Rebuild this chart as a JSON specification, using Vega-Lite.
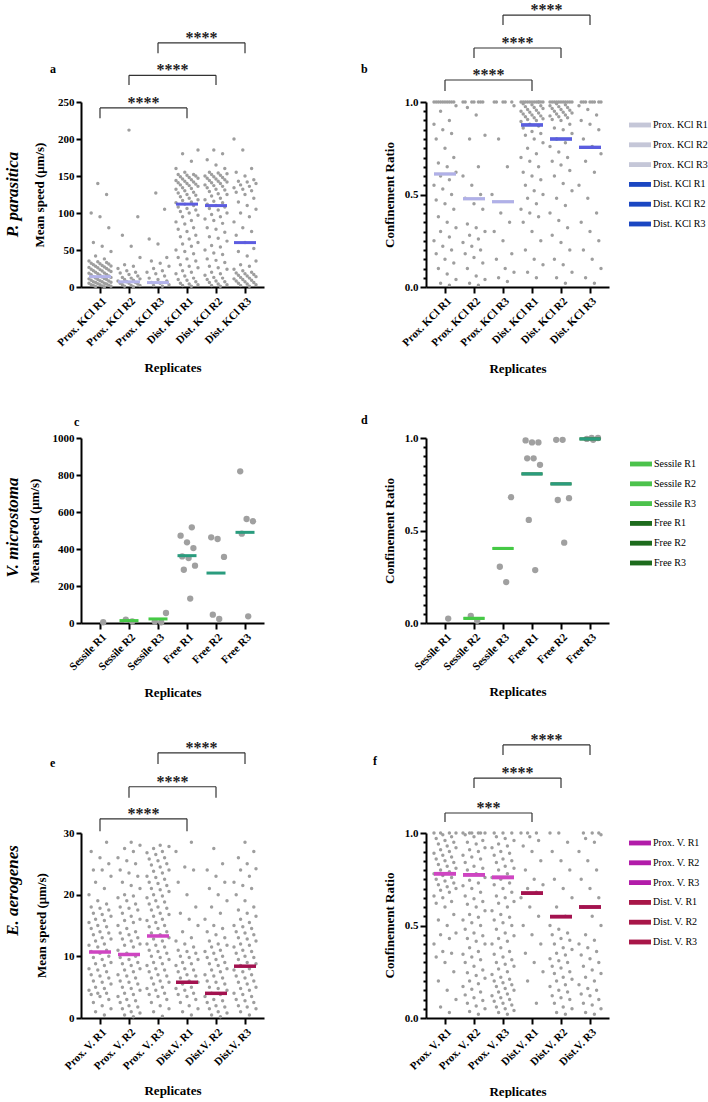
{
"$schema":"https://vega.github.io/schema/vega-lite/v6.json",
"background":"white",
"padding":{"left":2,"top":2,"right":0,"bottom":0},
"config":{"view":{"stroke":null},"font":"Liberation Serif",
"axis":{"grid":false,"domainColor":"#000","domainWidth":2,"tickColor":"#000","tickWidth":2,"tickSize":5,"labelFont":"Liberation Serif","labelFontSize":11,"labelFontWeight":"bold","labelColor":"#000","titleFont":"Liberation Serif","titleFontSize":13,"titleFontWeight":"bold","titleColor":"#000","titleBaseline":"middle"},
"axisX":{"labelAngle":-45,"tickSize":6,"labelPadding":2},
"title":{"font":"Liberation Serif","fontSize":12,"fontWeight":"bold","color":"#000","anchor":"start","frame":"group","baseline":"alphabetic","offset":0},
"legend":{"title":null,"symbolType":"M-1,-0.22H1V0.22H-1Z","symbolSize":484,"symbolStrokeWidth":0,"symbolOpacity":1,"labelFont":"Liberation Serif","labelFontSize":10,"labelFontWeight":"normal","labelColor":"#000","labelOffset":2,"rowPadding":3.8,"padding":0}
},
"datasets":{
"a":[{"g":"P1","v":0.5},{"g":"P1","v":1},{"g":"P1","v":1.5},{"g":"P1","v":2},{"g":"P1","v":3},{"g":"P1","v":3},{"g":"P1","v":4},{"g":"P1","v":5},{"g":"P1","v":5},{"g":"P1","v":6},{"g":"P1","v":7},{"g":"P1","v":7},{"g":"P1","v":8},{"g":"P1","v":9},{"g":"P1","v":10},{"g":"P1","v":10},{"g":"P1","v":11},{"g":"P1","v":12},{"g":"P1","v":13},{"g":"P1","v":14},{"g":"P1","v":15},{"g":"P1","v":16},{"g":"P1","v":17},{"g":"P1","v":18},{"g":"P1","v":19},{"g":"P1","v":20},{"g":"P1","v":21},{"g":"P1","v":22},{"g":"P1","v":23},{"g":"P1","v":24},{"g":"P1","v":25},{"g":"P1","v":26},{"g":"P1","v":27},{"g":"P1","v":28},{"g":"P1","v":29},{"g":"P1","v":30},{"g":"P1","v":31},{"g":"P1","v":32},{"g":"P1","v":33},{"g":"P1","v":35},{"g":"P1","v":38},{"g":"P1","v":42},{"g":"P1","v":48},{"g":"P1","v":55},{"g":"P1","v":60},{"g":"P1","v":80},{"g":"P1","v":95},{"g":"P1","v":100},{"g":"P1","v":125},{"g":"P1","v":140},{"g":"P1","v":0.8},{"g":"P1","v":2.5},{"g":"P1","v":4.5},{"g":"P1","v":6.5},{"g":"P1","v":8.5},{"g":"P1","v":11.5},{"g":"P1","v":13.5},{"g":"P1","v":16.5},{"g":"P1","v":18.5},{"g":"P1","v":21.5},{"g":"P1","v":23.5},{"g":"P1","v":26.5},{"g":"P1","v":28.5},{"g":"P1","v":31.5},{"g":"P1","v":34},
{"g":"P2","v":0.5},{"g":"P2","v":1},{"g":"P2","v":2},{"g":"P2","v":2},{"g":"P2","v":3},{"g":"P2","v":4},{"g":"P2","v":5},{"g":"P2","v":5},{"g":"P2","v":6},{"g":"P2","v":7},{"g":"P2","v":8},{"g":"P2","v":9},{"g":"P2","v":10},{"g":"P2","v":11},{"g":"P2","v":12},{"g":"P2","v":13},{"g":"P2","v":15},{"g":"P2","v":17},{"g":"P2","v":19},{"g":"P2","v":20},{"g":"P2","v":22},{"g":"P2","v":25},{"g":"P2","v":28},{"g":"P2","v":30},{"g":"P2","v":40},{"g":"P2","v":55},{"g":"P2","v":70},{"g":"P2","v":95},{"g":"P2","v":212},
{"g":"P3","v":1},{"g":"P3","v":2},{"g":"P3","v":3},{"g":"P3","v":5},{"g":"P3","v":6},{"g":"P3","v":8},{"g":"P3","v":10},{"g":"P3","v":12},{"g":"P3","v":15},{"g":"P3","v":18},{"g":"P3","v":20},{"g":"P3","v":22},{"g":"P3","v":25},{"g":"P3","v":28},{"g":"P3","v":32},{"g":"P3","v":35},{"g":"P3","v":40},{"g":"P3","v":58},{"g":"P3","v":65},{"g":"P3","v":105},{"g":"P3","v":127},
{"g":"D1","v":1},{"g":"D1","v":2},{"g":"D1","v":3},{"g":"D1","v":5},{"g":"D1","v":7},{"g":"D1","v":9},{"g":"D1","v":12},{"g":"D1","v":15},{"g":"D1","v":18},{"g":"D1","v":22},{"g":"D1","v":26},{"g":"D1","v":30},{"g":"D1","v":35},{"g":"D1","v":40},{"g":"D1","v":45},{"g":"D1","v":50},{"g":"D1","v":55},{"g":"D1","v":60},{"g":"D1","v":65},{"g":"D1","v":70},{"g":"D1","v":75},{"g":"D1","v":80},{"g":"D1","v":85},{"g":"D1","v":90},{"g":"D1","v":95},{"g":"D1","v":100},{"g":"D1","v":104},{"g":"D1","v":108},{"g":"D1","v":110},{"g":"D1","v":112},{"g":"D1","v":115},{"g":"D1","v":118},{"g":"D1","v":120},{"g":"D1","v":122},{"g":"D1","v":125},{"g":"D1","v":127},{"g":"D1","v":130},{"g":"D1","v":132},{"g":"D1","v":134},{"g":"D1","v":136},{"g":"D1","v":138},{"g":"D1","v":140},{"g":"D1","v":141},{"g":"D1","v":142},{"g":"D1","v":143},{"g":"D1","v":144},{"g":"D1","v":145},{"g":"D1","v":146},{"g":"D1","v":147},{"g":"D1","v":148},{"g":"D1","v":149},{"g":"D1","v":150},{"g":"D1","v":151},{"g":"D1","v":152},{"g":"D1","v":152},{"g":"D1","v":155},{"g":"D1","v":160},{"g":"D1","v":170},{"g":"D1","v":180},{"g":"D1","v":185},{"g":"D1","v":4},{"g":"D1","v":10},{"g":"D1","v":20},{"g":"D1","v":28},{"g":"D1","v":38},{"g":"D1","v":48},{"g":"D1","v":58},{"g":"D1","v":68},{"g":"D1","v":78},{"g":"D1","v":88},{"g":"D1","v":97},{"g":"D1","v":102},{"g":"D1","v":106},{"g":"D1","v":114},{"g":"D1","v":117},{"g":"D1","v":124},{"g":"D1","v":128},{"g":"D1","v":133},{"g":"D1","v":137},{"g":"D1","v":139},
{"g":"D2","v":1},{"g":"D2","v":2},{"g":"D2","v":4},{"g":"D2","v":6},{"g":"D2","v":8},{"g":"D2","v":10},{"g":"D2","v":13},{"g":"D2","v":16},{"g":"D2","v":20},{"g":"D2","v":24},{"g":"D2","v":28},{"g":"D2","v":33},{"g":"D2","v":38},{"g":"D2","v":44},{"g":"D2","v":50},{"g":"D2","v":56},{"g":"D2","v":62},{"g":"D2","v":68},{"g":"D2","v":74},{"g":"D2","v":80},{"g":"D2","v":86},{"g":"D2","v":90},{"g":"D2","v":95},{"g":"D2","v":100},{"g":"D2","v":104},{"g":"D2","v":108},{"g":"D2","v":112},{"g":"D2","v":116},{"g":"D2","v":120},{"g":"D2","v":123},{"g":"D2","v":126},{"g":"D2","v":129},{"g":"D2","v":132},{"g":"D2","v":134},{"g":"D2","v":136},{"g":"D2","v":138},{"g":"D2","v":140},{"g":"D2","v":142},{"g":"D2","v":143},{"g":"D2","v":144},{"g":"D2","v":145},{"g":"D2","v":146},{"g":"D2","v":147},{"g":"D2","v":148},{"g":"D2","v":149},{"g":"D2","v":150},{"g":"D2","v":151},{"g":"D2","v":152},{"g":"D2","v":153},{"g":"D2","v":154},{"g":"D2","v":155},{"g":"D2","v":160},{"g":"D2","v":165},{"g":"D2","v":172},{"g":"D2","v":180},{"g":"D2","v":185},{"g":"D2","v":3},{"g":"D2","v":7},{"g":"D2","v":12},{"g":"D2","v":18},{"g":"D2","v":26},{"g":"D2","v":36},{"g":"D2","v":46},{"g":"D2","v":54},{"g":"D2","v":66},{"g":"D2","v":78},{"g":"D2","v":92},{"g":"D2","v":98},{"g":"D2","v":106},{"g":"D2","v":110},{"g":"D2","v":114},{"g":"D2","v":118},{"g":"D2","v":125},{"g":"D2","v":131},{"g":"D2","v":137},{"g":"D2","v":141},
{"g":"D3","v":1},{"g":"D3","v":2},{"g":"D3","v":3},{"g":"D3","v":4},{"g":"D3","v":5},{"g":"D3","v":6},{"g":"D3","v":7},{"g":"D3","v":8},{"g":"D3","v":9},{"g":"D3","v":10},{"g":"D3","v":11},{"g":"D3","v":12},{"g":"D3","v":13},{"g":"D3","v":14},{"g":"D3","v":15},{"g":"D3","v":16},{"g":"D3","v":17},{"g":"D3","v":18},{"g":"D3","v":19},{"g":"D3","v":20},{"g":"D3","v":22},{"g":"D3","v":24},{"g":"D3","v":28},{"g":"D3","v":30},{"g":"D3","v":35},{"g":"D3","v":42},{"g":"D3","v":48},{"g":"D3","v":52},{"g":"D3","v":60},{"g":"D3","v":70},{"g":"D3","v":75},{"g":"D3","v":80},{"g":"D3","v":88},{"g":"D3","v":95},{"g":"D3","v":100},{"g":"D3","v":105},{"g":"D3","v":110},{"g":"D3","v":115},{"g":"D3","v":120},{"g":"D3","v":125},{"g":"D3","v":128},{"g":"D3","v":130},{"g":"D3","v":132},{"g":"D3","v":134},{"g":"D3","v":136},{"g":"D3","v":138},{"g":"D3","v":140},{"g":"D3","v":142},{"g":"D3","v":143},{"g":"D3","v":145},{"g":"D3","v":150},{"g":"D3","v":155},{"g":"D3","v":160},{"g":"D3","v":185},{"g":"D3","v":200}],
"am":[{"g":"P1","m":14},{"g":"P2","m":7},{"g":"P3","m":6},{"g":"D1","m":112},{"g":"D2","m":110},{"g":"D3","m":60}],
"ab":[{"s":"P1","e":"D1","m":"P2","y":242,"d":228,"t":"****"},{"s":"P2","e":"D2","m":"P3","y":286,"d":273,"t":"****"},{"s":"P3","e":"D3","m":"D1","y":330,"d":316,"t":"****"}],
"b":[{"g":"P1","v":0.01},{"g":"P1","v":0.02},{"g":"P1","v":0.04},{"g":"P1","v":0.07},{"g":"P1","v":0.1},{"g":"P1","v":0.13},{"g":"P1","v":0.15},{"g":"P1","v":0.18},{"g":"P1","v":0.2},{"g":"P1","v":0.22},{"g":"P1","v":0.25},{"g":"P1","v":0.27},{"g":"P1","v":0.3},{"g":"P1","v":0.32},{"g":"P1","v":0.35},{"g":"P1","v":0.38},{"g":"P1","v":0.42},{"g":"P1","v":0.45},{"g":"P1","v":0.47},{"g":"P1","v":0.5},{"g":"P1","v":0.53},{"g":"P1","v":0.55},{"g":"P1","v":0.58},{"g":"P1","v":0.6},{"g":"P1","v":0.62},{"g":"P1","v":0.65},{"g":"P1","v":0.67},{"g":"P1","v":0.7},{"g":"P1","v":0.75},{"g":"P1","v":0.8},{"g":"P1","v":0.83},{"g":"P1","v":0.85},{"g":"P1","v":0.88},{"g":"P1","v":0.9},{"g":"P1","v":0.95},{"g":"P1","v":0.98},{"g":"P1","v":1},{"g":"P1","v":1},{"g":"P1","v":1},{"g":"P1","v":1},{"g":"P1","v":1},{"g":"P1","v":1},{"g":"P1","v":1},{"g":"P1","v":1},{"g":"P1","v":1},{"g":"P1","v":1},
{"g":"P2","v":0.01},{"g":"P2","v":0.02},{"g":"P2","v":0.04},{"g":"P2","v":0.06},{"g":"P2","v":0.1},{"g":"P2","v":0.13},{"g":"P2","v":0.16},{"g":"P2","v":0.18},{"g":"P2","v":0.2},{"g":"P2","v":0.22},{"g":"P2","v":0.24},{"g":"P2","v":0.26},{"g":"P2","v":0.28},{"g":"P2","v":0.3},{"g":"P2","v":0.32},{"g":"P2","v":0.34},{"g":"P2","v":0.42},{"g":"P2","v":0.45},{"g":"P2","v":0.48},{"g":"P2","v":0.5},{"g":"P2","v":0.55},{"g":"P2","v":0.6},{"g":"P2","v":0.65},{"g":"P2","v":0.8},{"g":"P2","v":0.82},{"g":"P2","v":0.93},{"g":"P2","v":0.97},{"g":"P2","v":1},{"g":"P2","v":1},{"g":"P2","v":1},{"g":"P2","v":1},{"g":"P2","v":1},{"g":"P2","v":1},{"g":"P2","v":1},
{"g":"P3","v":0.03},{"g":"P3","v":0.05},{"g":"P3","v":0.08},{"g":"P3","v":0.1},{"g":"P3","v":0.15},{"g":"P3","v":0.18},{"g":"P3","v":0.25},{"g":"P3","v":0.3},{"g":"P3","v":0.35},{"g":"P3","v":0.4},{"g":"P3","v":0.5},{"g":"P3","v":0.65},{"g":"P3","v":0.8},{"g":"P3","v":0.98},{"g":"P3","v":1},{"g":"P3","v":1},{"g":"P3","v":1},{"g":"P3","v":1},{"g":"P3","v":1},
{"g":"D1","v":0.05},{"g":"D1","v":0.08},{"g":"D1","v":0.12},{"g":"D1","v":0.15},{"g":"D1","v":0.2},{"g":"D1","v":0.25},{"g":"D1","v":0.3},{"g":"D1","v":0.35},{"g":"D1","v":0.38},{"g":"D1","v":0.4},{"g":"D1","v":0.42},{"g":"D1","v":0.45},{"g":"D1","v":0.48},{"g":"D1","v":0.5},{"g":"D1","v":0.52},{"g":"D1","v":0.55},{"g":"D1","v":0.58},{"g":"D1","v":0.6},{"g":"D1","v":0.62},{"g":"D1","v":0.65},{"g":"D1","v":0.68},{"g":"D1","v":0.7},{"g":"D1","v":0.72},{"g":"D1","v":0.75},{"g":"D1","v":0.78},{"g":"D1","v":0.8},{"g":"D1","v":0.82},{"g":"D1","v":0.84},{"g":"D1","v":0.86},{"g":"D1","v":0.88},{"g":"D1","v":0.9},{"g":"D1","v":0.91},{"g":"D1","v":0.92},{"g":"D1","v":0.93},{"g":"D1","v":0.94},{"g":"D1","v":0.95},{"g":"D1","v":0.96},{"g":"D1","v":0.97},{"g":"D1","v":0.98},{"g":"D1","v":0.99},{"g":"D1","v":1},{"g":"D1","v":1},{"g":"D1","v":1},{"g":"D1","v":1},{"g":"D1","v":1},{"g":"D1","v":1},{"g":"D1","v":1},{"g":"D1","v":1},{"g":"D1","v":1},{"g":"D1","v":1},{"g":"D1","v":1},{"g":"D1","v":1},{"g":"D1","v":0.985},{"g":"D1","v":0.975},{"g":"D1","v":0.965},{"g":"D1","v":0.955},{"g":"D1","v":0.945},{"g":"D1","v":0.935},{"g":"D1","v":0.925},{"g":"D1","v":0.915},{"g":"D1","v":0.905},{"g":"D1","v":0.895},{"g":"D1","v":0.87},{"g":"D1","v":0.83},
{"g":"D2","v":0.02},{"g":"D2","v":0.05},{"g":"D2","v":0.08},{"g":"D2","v":0.12},{"g":"D2","v":0.15},{"g":"D2","v":0.2},{"g":"D2","v":0.24},{"g":"D2","v":0.28},{"g":"D2","v":0.32},{"g":"D2","v":0.36},{"g":"D2","v":0.4},{"g":"D2","v":0.44},{"g":"D2","v":0.48},{"g":"D2","v":0.52},{"g":"D2","v":0.56},{"g":"D2","v":0.6},{"g":"D2","v":0.63},{"g":"D2","v":0.66},{"g":"D2","v":0.7},{"g":"D2","v":0.73},{"g":"D2","v":0.76},{"g":"D2","v":0.8},{"g":"D2","v":0.83},{"g":"D2","v":0.86},{"g":"D2","v":0.88},{"g":"D2","v":0.9},{"g":"D2","v":0.92},{"g":"D2","v":0.93},{"g":"D2","v":0.94},{"g":"D2","v":0.95},{"g":"D2","v":0.96},{"g":"D2","v":0.97},{"g":"D2","v":0.98},{"g":"D2","v":0.99},{"g":"D2","v":1},{"g":"D2","v":1},{"g":"D2","v":1},{"g":"D2","v":1},{"g":"D2","v":1},{"g":"D2","v":1},{"g":"D2","v":1},{"g":"D2","v":1},{"g":"D2","v":1},{"g":"D2","v":1},{"g":"D2","v":1},{"g":"D2","v":0.985},{"g":"D2","v":0.975},{"g":"D2","v":0.965},{"g":"D2","v":0.955},{"g":"D2","v":0.945},{"g":"D2","v":0.935},{"g":"D2","v":0.925},{"g":"D2","v":0.915},{"g":"D2","v":0.905},{"g":"D2","v":0.85},{"g":"D2","v":0.78},{"g":"D2","v":0.68},
{"g":"D3","v":0.02},{"g":"D3","v":0.05},{"g":"D3","v":0.1},{"g":"D3","v":0.15},{"g":"D3","v":0.2},{"g":"D3","v":0.25},{"g":"D3","v":0.3},{"g":"D3","v":0.35},{"g":"D3","v":0.4},{"g":"D3","v":0.48},{"g":"D3","v":0.55},{"g":"D3","v":0.62},{"g":"D3","v":0.68},{"g":"D3","v":0.72},{"g":"D3","v":0.76},{"g":"D3","v":0.8},{"g":"D3","v":0.85},{"g":"D3","v":0.88},{"g":"D3","v":0.9},{"g":"D3","v":0.93},{"g":"D3","v":0.96},{"g":"D3","v":0.98},{"g":"D3","v":1},{"g":"D3","v":1},{"g":"D3","v":1},{"g":"D3","v":1},{"g":"D3","v":1},{"g":"D3","v":1},{"g":"D3","v":1},{"g":"D3","v":1}],
"bm":[{"g":"P1","m":0.611},{"g":"P2","m":0.477},{"g":"P3","m":0.461},{"g":"D1","m":0.876},{"g":"D2","m":0.8},{"g":"D3","m":0.755}],
"bb":[{"s":"P1","e":"D1","m":"P2","y":1.119,"d":1.059,"t":"****"},{"s":"P2","e":"D2","m":"P3","y":1.292,"d":1.238,"t":"****"},{"s":"P3","e":"D3","m":"D1","y":1.47,"d":1.416,"t":"****"}],
"c":[{"g":"S1","v":4},{"g":"S2","v":8},{"g":"S2","v":18},{"g":"S3","v":54},{"g":"S3","v":8},{"g":"S3","v":4},{"g":"F1","v":517},{"g":"F1","v":472},{"g":"F1","v":436},{"g":"F1","v":405},{"g":"F1","v":360},{"g":"F1","v":351},{"g":"F1","v":310},{"g":"F1","v":288},{"g":"F1","v":132},{"g":"F2","v":454},{"g":"F2","v":463},{"g":"F2","v":357},{"g":"F2","v":22},{"g":"F2","v":45},{"g":"F3","v":820},{"g":"F3","v":550},{"g":"F3","v":562},{"g":"F3","v":483},{"g":"F3","v":36}],
"cm":[{"g":"S2","m":13},{"g":"S3","m":22},{"g":"F1","m":364},{"g":"F2","m":270},{"g":"F3","m":490}],
"d":[{"g":"S1","v":0.024},{"g":"S2","v":0.012},{"g":"S2","v":0.038},{"g":"S3","v":0.68},{"g":"S3","v":0.304},{"g":"S3","v":0.221},{"g":"F1","v":0.976},{"g":"F1","v":0.987},{"g":"F1","v":0.976},{"g":"F1","v":0.89},{"g":"F1","v":0.89},{"g":"F1","v":0.855},{"g":"F1","v":0.557},{"g":"F1","v":0.286},{"g":"F2","v":0.99},{"g":"F2","v":0.99},{"g":"F2","v":0.665},{"g":"F2","v":0.675},{"g":"F2","v":0.434},{"g":"F3","v":1},{"g":"F3","v":0.995},{"g":"F3","v":0.99},{"g":"F3","v":1}],
"dm":[{"g":"S2","m":0.025},{"g":"S3","m":0.403},{"g":"F1","m":0.806},{"g":"F2","m":0.752},{"g":"F3","m":0.995}],
"e":[{"g":"P1","v":0.5},{"g":"P1","v":1},{"g":"P1","v":1.5},{"g":"P1","v":2},{"g":"P1","v":2.5},{"g":"P1","v":3},{"g":"P1","v":3.5},{"g":"P1","v":4},{"g":"P1","v":4},{"g":"P1","v":4.5},{"g":"P1","v":5},{"g":"P1","v":5.5},{"g":"P1","v":6},{"g":"P1","v":6.5},{"g":"P1","v":7},{"g":"P1","v":7.5},{"g":"P1","v":8},{"g":"P1","v":8.5},{"g":"P1","v":9},{"g":"P1","v":9.5},{"g":"P1","v":10},{"g":"P1","v":10.5},{"g":"P1","v":11},{"g":"P1","v":11.5},{"g":"P1","v":12},{"g":"P1","v":12.5},{"g":"P1","v":13},{"g":"P1","v":13.5},{"g":"P1","v":14},{"g":"P1","v":14.5},{"g":"P1","v":15},{"g":"P1","v":15.5},{"g":"P1","v":16},{"g":"P1","v":16.5},{"g":"P1","v":17},{"g":"P1","v":17.5},{"g":"P1","v":18},{"g":"P1","v":18.5},{"g":"P1","v":19},{"g":"P1","v":20},{"g":"P1","v":21},{"g":"P1","v":22},{"g":"P1","v":23},{"g":"P1","v":24},{"g":"P1","v":24},{"g":"P1","v":25},{"g":"P1","v":26},{"g":"P1","v":27},{"g":"P1","v":28.5},{"g":"P1","v":3.8},{"g":"P1","v":4.8},{"g":"P1","v":5.8},{"g":"P1","v":6.8},{"g":"P1","v":7.8},{"g":"P1","v":8.8},{"g":"P1","v":9.8},{"g":"P1","v":10.8},{"g":"P1","v":11.8},{"g":"P1","v":12.8},{"g":"P1","v":13.8},{"g":"P1","v":14.8},{"g":"P1","v":15.8},{"g":"P1","v":16.8},{"g":"P1","v":17.8},
{"g":"P2","v":0.2},{"g":"P2","v":0.5},{"g":"P2","v":1},{"g":"P2","v":1.5},{"g":"P2","v":2},{"g":"P2","v":2.5},{"g":"P2","v":3},{"g":"P2","v":3.5},{"g":"P2","v":4},{"g":"P2","v":4.5},{"g":"P2","v":5},{"g":"P2","v":5.5},{"g":"P2","v":6},{"g":"P2","v":6.5},{"g":"P2","v":7},{"g":"P2","v":7.5},{"g":"P2","v":8},{"g":"P2","v":8.5},{"g":"P2","v":9},{"g":"P2","v":9.5},{"g":"P2","v":10},{"g":"P2","v":10.5},{"g":"P2","v":11},{"g":"P2","v":11.5},{"g":"P2","v":12},{"g":"P2","v":12.5},{"g":"P2","v":13},{"g":"P2","v":13.5},{"g":"P2","v":14},{"g":"P2","v":14.5},{"g":"P2","v":15},{"g":"P2","v":15.5},{"g":"P2","v":16},{"g":"P2","v":16.5},{"g":"P2","v":17},{"g":"P2","v":17.5},{"g":"P2","v":18},{"g":"P2","v":18.5},{"g":"P2","v":19},{"g":"P2","v":19.5},{"g":"P2","v":20},{"g":"P2","v":21},{"g":"P2","v":22},{"g":"P2","v":23},{"g":"P2","v":24},{"g":"P2","v":25},{"g":"P2","v":26},{"g":"P2","v":27},{"g":"P2","v":28},{"g":"P2","v":28.5},{"g":"P2","v":0.8},{"g":"P2","v":1.8},{"g":"P2","v":2.8},{"g":"P2","v":3.8},{"g":"P2","v":4.8},{"g":"P2","v":5.8},{"g":"P2","v":6.8},{"g":"P2","v":7.8},{"g":"P2","v":8.8},{"g":"P2","v":9.8},{"g":"P2","v":11.8},{"g":"P2","v":12.8},{"g":"P2","v":13.8},{"g":"P2","v":15.8},{"g":"P2","v":17.8},{"g":"P2","v":19.8},{"g":"P2","v":21.5},{"g":"P2","v":23.5},{"g":"P2","v":25.5},{"g":"P2","v":27.5},
{"g":"P3","v":0.3},{"g":"P3","v":1},{"g":"P3","v":2},{"g":"P3","v":3},{"g":"P3","v":3.5},{"g":"P3","v":4},{"g":"P3","v":4.5},{"g":"P3","v":5},{"g":"P3","v":5.5},{"g":"P3","v":6},{"g":"P3","v":6.5},{"g":"P3","v":7},{"g":"P3","v":7.5},{"g":"P3","v":8},{"g":"P3","v":8.5},{"g":"P3","v":9},{"g":"P3","v":9.5},{"g":"P3","v":10},{"g":"P3","v":10.5},{"g":"P3","v":11},{"g":"P3","v":11.5},{"g":"P3","v":12},{"g":"P3","v":12.5},{"g":"P3","v":13},{"g":"P3","v":13.5},{"g":"P3","v":14},{"g":"P3","v":14.5},{"g":"P3","v":15},{"g":"P3","v":15.5},{"g":"P3","v":16},{"g":"P3","v":16.5},{"g":"P3","v":17},{"g":"P3","v":17.5},{"g":"P3","v":18},{"g":"P3","v":18.5},{"g":"P3","v":19},{"g":"P3","v":19.5},{"g":"P3","v":20},{"g":"P3","v":20.5},{"g":"P3","v":21},{"g":"P3","v":21.5},{"g":"P3","v":22},{"g":"P3","v":22.5},{"g":"P3","v":23},{"g":"P3","v":23.5},{"g":"P3","v":24},{"g":"P3","v":24.5},{"g":"P3","v":25},{"g":"P3","v":25.5},{"g":"P3","v":26},{"g":"P3","v":26.5},{"g":"P3","v":27},{"g":"P3","v":27.5},{"g":"P3","v":28},{"g":"P3","v":1.5},{"g":"P3","v":2.5},{"g":"P3","v":3.8},{"g":"P3","v":4.8},{"g":"P3","v":5.8},{"g":"P3","v":6.8},{"g":"P3","v":7.8},{"g":"P3","v":8.8},{"g":"P3","v":9.8},{"g":"P3","v":10.8},{"g":"P3","v":11.8},{"g":"P3","v":12.8},{"g":"P3","v":13.8},{"g":"P3","v":14.8},{"g":"P3","v":15.8},{"g":"P3","v":16.8},{"g":"P3","v":17.8},{"g":"P3","v":18.8},{"g":"P3","v":19.8},{"g":"P3","v":20.8},{"g":"P3","v":21.8},{"g":"P3","v":22.8},{"g":"P3","v":23.8},{"g":"P3","v":24.8},{"g":"P3","v":25.8},{"g":"P3","v":26.8},{"g":"P3","v":27.8},
{"g":"D1","v":0.5},{"g":"D1","v":1},{"g":"D1","v":1.5},{"g":"D1","v":2},{"g":"D1","v":2.5},{"g":"D1","v":3},{"g":"D1","v":3.5},{"g":"D1","v":4},{"g":"D1","v":4.5},{"g":"D1","v":5},{"g":"D1","v":5.5},{"g":"D1","v":6},{"g":"D1","v":6.5},{"g":"D1","v":7},{"g":"D1","v":7.5},{"g":"D1","v":8},{"g":"D1","v":8.5},{"g":"D1","v":9},{"g":"D1","v":9.5},{"g":"D1","v":10},{"g":"D1","v":10.5},{"g":"D1","v":11},{"g":"D1","v":11.5},{"g":"D1","v":12},{"g":"D1","v":13},{"g":"D1","v":14},{"g":"D1","v":15},{"g":"D1","v":16},{"g":"D1","v":17},{"g":"D1","v":18},{"g":"D1","v":20},{"g":"D1","v":22},{"g":"D1","v":24},{"g":"D1","v":24.5},{"g":"D1","v":27},{"g":"D1","v":28.5},{"g":"D1","v":3.8},{"g":"D1","v":4.8},{"g":"D1","v":5.8},{"g":"D1","v":6.8},{"g":"D1","v":7.8},{"g":"D1","v":8.8},{"g":"D1","v":9.8},{"g":"D1","v":10.8},{"g":"D1","v":12.5},
{"g":"D2","v":0.2},{"g":"D2","v":0.5},{"g":"D2","v":1},{"g":"D2","v":1.5},{"g":"D2","v":2},{"g":"D2","v":2.5},{"g":"D2","v":3},{"g":"D2","v":3.5},{"g":"D2","v":4},{"g":"D2","v":4.5},{"g":"D2","v":5},{"g":"D2","v":5.5},{"g":"D2","v":6},{"g":"D2","v":6.5},{"g":"D2","v":7},{"g":"D2","v":7.5},{"g":"D2","v":8},{"g":"D2","v":8.5},{"g":"D2","v":9},{"g":"D2","v":9.5},{"g":"D2","v":10},{"g":"D2","v":10.5},{"g":"D2","v":11},{"g":"D2","v":11.5},{"g":"D2","v":12},{"g":"D2","v":12.5},{"g":"D2","v":13},{"g":"D2","v":14},{"g":"D2","v":15},{"g":"D2","v":16},{"g":"D2","v":17},{"g":"D2","v":18},{"g":"D2","v":19},{"g":"D2","v":20},{"g":"D2","v":21},{"g":"D2","v":22},{"g":"D2","v":23},{"g":"D2","v":24},{"g":"D2","v":25},{"g":"D2","v":27.5},{"g":"D2","v":0.8},{"g":"D2","v":1.8},{"g":"D2","v":2.8},{"g":"D2","v":3.8},{"g":"D2","v":4.8},{"g":"D2","v":5.8},{"g":"D2","v":6.8},{"g":"D2","v":7.8},{"g":"D2","v":8.8},{"g":"D2","v":9.8},{"g":"D2","v":10.8},{"g":"D2","v":11.8},{"g":"D2","v":13.5},{"g":"D2","v":14.5},
{"g":"D3","v":0.5},{"g":"D3","v":1},{"g":"D3","v":1.5},{"g":"D3","v":2},{"g":"D3","v":2.5},{"g":"D3","v":3},{"g":"D3","v":3.5},{"g":"D3","v":4},{"g":"D3","v":4.5},{"g":"D3","v":5},{"g":"D3","v":5.5},{"g":"D3","v":6},{"g":"D3","v":6.5},{"g":"D3","v":7},{"g":"D3","v":7.5},{"g":"D3","v":8},{"g":"D3","v":8.5},{"g":"D3","v":9},{"g":"D3","v":9.5},{"g":"D3","v":10},{"g":"D3","v":10.5},{"g":"D3","v":11},{"g":"D3","v":11.5},{"g":"D3","v":12},{"g":"D3","v":12.5},{"g":"D3","v":13},{"g":"D3","v":13.5},{"g":"D3","v":14},{"g":"D3","v":14.5},{"g":"D3","v":15},{"g":"D3","v":16},{"g":"D3","v":17},{"g":"D3","v":18},{"g":"D3","v":19},{"g":"D3","v":20},{"g":"D3","v":21},{"g":"D3","v":22},{"g":"D3","v":23},{"g":"D3","v":24},{"g":"D3","v":25},{"g":"D3","v":26},{"g":"D3","v":27},{"g":"D3","v":28.5},{"g":"D3","v":1.8},{"g":"D3","v":2.8},{"g":"D3","v":3.8},{"g":"D3","v":4.8},{"g":"D3","v":5.8},{"g":"D3","v":6.8},{"g":"D3","v":7.8},{"g":"D3","v":8.8},{"g":"D3","v":9.8},{"g":"D3","v":10.8},{"g":"D3","v":11.8},{"g":"D3","v":12.8},{"g":"D3","v":13.8},{"g":"D3","v":14.8},{"g":"D3","v":15.5},{"g":"D3","v":16.5},{"g":"D3","v":17.5},{"g":"D3","v":21.5},{"g":"D3","v":24.2}],
"em":[{"g":"P1","m":10.7},{"g":"P2","m":10.3},{"g":"P3","m":13.3},{"g":"D1","m":5.8},{"g":"D2","m":4},{"g":"D3","m":8.4}],
"eb":[{"s":"P1","e":"D1","m":"P2","y":32.3,"d":30.3,"t":"****"},{"s":"P2","e":"D2","m":"P3","y":37.5,"d":35.7,"t":"****"},{"s":"P3","e":"D3","m":"D1","y":43,"d":41.2,"t":"****"}],
"f":[{"g":"P1","v":0.03},{"g":"P1","v":0.06},{"g":"P1","v":0.1},{"g":"P1","v":0.15},{"g":"P1","v":0.2},{"g":"P1","v":0.25},{"g":"P1","v":0.3},{"g":"P1","v":0.33},{"g":"P1","v":0.36},{"g":"P1","v":0.4},{"g":"P1","v":0.43},{"g":"P1","v":0.46},{"g":"P1","v":0.5},{"g":"P1","v":0.53},{"g":"P1","v":0.56},{"g":"P1","v":0.6},{"g":"P1","v":0.63},{"g":"P1","v":0.66},{"g":"P1","v":0.68},{"g":"P1","v":0.7},{"g":"P1","v":0.72},{"g":"P1","v":0.74},{"g":"P1","v":0.76},{"g":"P1","v":0.78},{"g":"P1","v":0.8},{"g":"P1","v":0.82},{"g":"P1","v":0.84},{"g":"P1","v":0.86},{"g":"P1","v":0.88},{"g":"P1","v":0.9},{"g":"P1","v":0.92},{"g":"P1","v":0.94},{"g":"P1","v":0.96},{"g":"P1","v":0.98},{"g":"P1","v":1},{"g":"P1","v":1},{"g":"P1","v":1},{"g":"P1","v":1},{"g":"P1","v":0.35},{"g":"P1","v":0.45},{"g":"P1","v":0.62},{"g":"P1","v":0.65},{"g":"P1","v":0.69},{"g":"P1","v":0.71},{"g":"P1","v":0.73},{"g":"P1","v":0.75},{"g":"P1","v":0.77},{"g":"P1","v":0.79},{"g":"P1","v":0.81},{"g":"P1","v":0.83},{"g":"P1","v":0.85},{"g":"P1","v":0.87},{"g":"P1","v":0.89},{"g":"P1","v":0.91},{"g":"P1","v":0.93},{"g":"P1","v":0.95},{"g":"P1","v":0.97},{"g":"P1","v":0.99},
{"g":"P2","v":0.02},{"g":"P2","v":0.05},{"g":"P2","v":0.08},{"g":"P2","v":0.11},{"g":"P2","v":0.14},{"g":"P2","v":0.17},{"g":"P2","v":0.2},{"g":"P2","v":0.23},{"g":"P2","v":0.26},{"g":"P2","v":0.3},{"g":"P2","v":0.33},{"g":"P2","v":0.36},{"g":"P2","v":0.4},{"g":"P2","v":0.43},{"g":"P2","v":0.46},{"g":"P2","v":0.5},{"g":"P2","v":0.53},{"g":"P2","v":0.56},{"g":"P2","v":0.6},{"g":"P2","v":0.63},{"g":"P2","v":0.66},{"g":"P2","v":0.7},{"g":"P2","v":0.73},{"g":"P2","v":0.76},{"g":"P2","v":0.8},{"g":"P2","v":0.82},{"g":"P2","v":0.84},{"g":"P2","v":0.86},{"g":"P2","v":0.88},{"g":"P2","v":0.9},{"g":"P2","v":0.92},{"g":"P2","v":0.94},{"g":"P2","v":0.96},{"g":"P2","v":0.98},{"g":"P2","v":1},{"g":"P2","v":1},{"g":"P2","v":1},{"g":"P2","v":1},{"g":"P2","v":1},{"g":"P2","v":1},{"g":"P2","v":0.035},{"g":"P2","v":0.065},{"g":"P2","v":0.095},{"g":"P2","v":0.125},{"g":"P2","v":0.155},{"g":"P2","v":0.185},{"g":"P2","v":0.215},{"g":"P2","v":0.245},{"g":"P2","v":0.28},{"g":"P2","v":0.315},{"g":"P2","v":0.345},{"g":"P2","v":0.38},{"g":"P2","v":0.415},{"g":"P2","v":0.445},{"g":"P2","v":0.48},{"g":"P2","v":0.515},{"g":"P2","v":0.545},{"g":"P2","v":0.58},{"g":"P2","v":0.615},{"g":"P2","v":0.645},{"g":"P2","v":0.68},{"g":"P2","v":0.715},{"g":"P2","v":0.745},{"g":"P2","v":0.78},{"g":"P2","v":0.81},{"g":"P2","v":0.87},{"g":"P2","v":0.91},{"g":"P2","v":0.95},{"g":"P2","v":0.99},
{"g":"P3","v":0.02},{"g":"P3","v":0.04},{"g":"P3","v":0.06},{"g":"P3","v":0.08},{"g":"P3","v":0.1},{"g":"P3","v":0.12},{"g":"P3","v":0.14},{"g":"P3","v":0.16},{"g":"P3","v":0.18},{"g":"P3","v":0.2},{"g":"P3","v":0.22},{"g":"P3","v":0.25},{"g":"P3","v":0.28},{"g":"P3","v":0.3},{"g":"P3","v":0.33},{"g":"P3","v":0.36},{"g":"P3","v":0.4},{"g":"P3","v":0.43},{"g":"P3","v":0.46},{"g":"P3","v":0.5},{"g":"P3","v":0.53},{"g":"P3","v":0.56},{"g":"P3","v":0.6},{"g":"P3","v":0.63},{"g":"P3","v":0.66},{"g":"P3","v":0.7},{"g":"P3","v":0.73},{"g":"P3","v":0.76},{"g":"P3","v":0.8},{"g":"P3","v":0.82},{"g":"P3","v":0.84},{"g":"P3","v":0.86},{"g":"P3","v":0.88},{"g":"P3","v":0.9},{"g":"P3","v":0.92},{"g":"P3","v":0.94},{"g":"P3","v":0.96},{"g":"P3","v":0.98},{"g":"P3","v":1},{"g":"P3","v":1},{"g":"P3","v":1},{"g":"P3","v":0.03},{"g":"P3","v":0.05},{"g":"P3","v":0.07},{"g":"P3","v":0.09},{"g":"P3","v":0.11},{"g":"P3","v":0.13},{"g":"P3","v":0.15},{"g":"P3","v":0.17},{"g":"P3","v":0.19},{"g":"P3","v":0.21},{"g":"P3","v":0.235},{"g":"P3","v":0.265},{"g":"P3","v":0.29},{"g":"P3","v":0.315},{"g":"P3","v":0.345},{"g":"P3","v":0.38},{"g":"P3","v":0.415},{"g":"P3","v":0.445},{"g":"P3","v":0.48},{"g":"P3","v":0.515},{"g":"P3","v":0.545},{"g":"P3","v":0.58},{"g":"P3","v":0.62},{"g":"P3","v":0.65},{"g":"P3","v":0.68},{"g":"P3","v":0.72},{"g":"P3","v":0.75},{"g":"P3","v":0.78},{"g":"P3","v":0.81},{"g":"P3","v":0.85},{"g":"P3","v":0.89},{"g":"P3","v":0.93},{"g":"P3","v":0.97},
{"g":"D1","v":0.08},{"g":"D1","v":0.2},{"g":"D1","v":0.25},{"g":"D1","v":0.3},{"g":"D1","v":0.35},{"g":"D1","v":0.4},{"g":"D1","v":0.45},{"g":"D1","v":0.5},{"g":"D1","v":0.55},{"g":"D1","v":0.6},{"g":"D1","v":0.65},{"g":"D1","v":0.68},{"g":"D1","v":0.7},{"g":"D1","v":0.72},{"g":"D1","v":0.75},{"g":"D1","v":0.8},{"g":"D1","v":0.85},{"g":"D1","v":0.9},{"g":"D1","v":0.93},{"g":"D1","v":0.96},{"g":"D1","v":0.98},{"g":"D1","v":1},{"g":"D1","v":1},{"g":"D1","v":1},
{"g":"D2","v":0.02},{"g":"D2","v":0.05},{"g":"D2","v":0.08},{"g":"D2","v":0.1},{"g":"D2","v":0.12},{"g":"D2","v":0.15},{"g":"D2","v":0.18},{"g":"D2","v":0.2},{"g":"D2","v":0.22},{"g":"D2","v":0.25},{"g":"D2","v":0.28},{"g":"D2","v":0.3},{"g":"D2","v":0.32},{"g":"D2","v":0.35},{"g":"D2","v":0.38},{"g":"D2","v":0.4},{"g":"D2","v":0.43},{"g":"D2","v":0.46},{"g":"D2","v":0.5},{"g":"D2","v":0.55},{"g":"D2","v":0.6},{"g":"D2","v":0.65},{"g":"D2","v":0.7},{"g":"D2","v":0.75},{"g":"D2","v":0.8},{"g":"D2","v":0.85},{"g":"D2","v":0.9},{"g":"D2","v":0.95},{"g":"D2","v":1},{"g":"D2","v":1},{"g":"D2","v":0.03},{"g":"D2","v":0.06},{"g":"D2","v":0.11},{"g":"D2","v":0.14},{"g":"D2","v":0.17},{"g":"D2","v":0.21},{"g":"D2","v":0.24},{"g":"D2","v":0.27},{"g":"D2","v":0.31},{"g":"D2","v":0.34},{"g":"D2","v":0.37},{"g":"D2","v":0.42},{"g":"D2","v":0.45},{"g":"D2","v":0.48},
{"g":"D3","v":0.02},{"g":"D3","v":0.05},{"g":"D3","v":0.08},{"g":"D3","v":0.1},{"g":"D3","v":0.13},{"g":"D3","v":0.16},{"g":"D3","v":0.2},{"g":"D3","v":0.24},{"g":"D3","v":0.28},{"g":"D3","v":0.32},{"g":"D3","v":0.36},{"g":"D3","v":0.4},{"g":"D3","v":0.45},{"g":"D3","v":0.5},{"g":"D3","v":0.55},{"g":"D3","v":0.6},{"g":"D3","v":0.65},{"g":"D3","v":0.7},{"g":"D3","v":0.75},{"g":"D3","v":0.8},{"g":"D3","v":0.85},{"g":"D3","v":0.9},{"g":"D3","v":0.95},{"g":"D3","v":1},{"g":"D3","v":1},{"g":"D3","v":1},{"g":"D3","v":0.03},{"g":"D3","v":0.07},{"g":"D3","v":0.12},{"g":"D3","v":0.15},{"g":"D3","v":0.18},{"g":"D3","v":0.22},{"g":"D3","v":0.26},{"g":"D3","v":0.3},{"g":"D3","v":0.34},{"g":"D3","v":0.38},{"g":"D3","v":0.42},{"g":"D3","v":0.97},{"g":"D3","v":0.99}],
"fm":[{"g":"P1","m":0.78},{"g":"P2","m":0.774},{"g":"P3","m":0.76},{"g":"D1","m":0.675},{"g":"D2","m":0.548},{"g":"D3","m":0.6}],
"fb":[{"s":"P1","e":"D1","m":"P2","y":1.108,"d":1.059,"t":"***"},{"s":"P2","e":"D2","m":"P3","y":1.297,"d":1.243,"t":"****"},{"s":"P3","e":"D3","m":"D1","y":1.476,"d":1.422,"t":"****"}]
},
"columns":2,
"spacing":{"row":151,"column":162},
"bounds":"flush",
"resolve":{"scale":{"color":"independent","xOffset":"independent","x":"independent","y":"independent"},"legend":{"color":"independent"},"axis":{"x":"independent","y":"independent"}},
"concat":[
{"width":183,"height":185,
"title":{"text":"a","dx":-31,"dy":50},
"resolve":{"axis":{"x":"independent","y":"independent"}},
"layer":[
{"data":{"name":"a"},"transform":[{"window":[{"op":"row_number","as":"r"}],"groupby":["g"],"sort":[{"field":"v","order":"ascending"}]},{"calculate":"(datum.r*7)%11-5","as":"j"}],
"mark":{"type":"circle","size":12,"color":"#9e9e9e","opacity":1},
"encoding":{"x":{"field":"g","type":"nominal","scale":{"type":"point","domain":["P1","P2","P3","D1","D2","D3"],"padding":0.655},"axis":{"title":"Replicates","titleY":80,"labelExpr":"replace(replace(datum.label,'P','Prox. KCl R'),'D','Dist. KCl R')"}},
"xOffset":{"field":"j","type":"quantitative","scale":{"domain":[-5,5],"range":[-11,11]}},
"y":{"field":"v","type":"quantitative","scale":{"domain":[0,250],"nice":false},"axis":{"title":"Mean speed (μm/s)","values":[0,50,100,150,200,250],"titleX":-42}}}},
{"data":{"name":"am"},"mark":{"type":"tick","thickness":3,"size":22,"opacity":1},
"encoding":{"x":{"field":"g","type":"nominal","axis":null},"y":{"field":"m","type":"quantitative","axis":{"orient":"left","title":"P. parasitica","titleFontStyle":"italic","titleFontSize":17,"titleX":-69,"titleY":92,"domain":false,"ticks":false,"labels":false}},
"color":{"field":"g","type":"nominal","scale":{"domain":["P1","P2","P3","D1","D2","D3"],"range":["#b4b4ea","#b4b4ea","#b4b4ea","#5c5ce0","#5c5ce0","#5c5ce0"]},"legend":null}}},
{"data":{"name":"ab"},"layer":[
{"mark":{"type":"rule","color":"#333","strokeWidth":1.2},"encoding":{"x":{"field":"s","type":"nominal","axis":null},"x2":{"field":"e"},"y":{"field":"y","type":"quantitative","axis":null}}},
{"mark":{"type":"rule","color":"#333","strokeWidth":1.2},"encoding":{"x":{"field":"s","type":"nominal","axis":null},"y":{"field":"y","type":"quantitative","axis":null},"y2":{"field":"d"}}},
{"mark":{"type":"rule","color":"#333","strokeWidth":1.2},"encoding":{"x":{"field":"e","type":"nominal","axis":null},"y":{"field":"y","type":"quantitative","axis":null},"y2":{"field":"d"}}},
{"mark":{"type":"text","dx":14.5,"dy":0,"baseline":"alphabetic","fontSize":16,"fontWeight":"bold","color":"#222","font":"Liberation Serif"},"encoding":{"x":{"field":"m","type":"nominal","axis":null},"y":{"field":"y","type":"quantitative","axis":null},"text":{"field":"t"}}}
]}
]},
{"width":183,"height":185,
"title":{"text":"b","dx":-65,"dy":78},
"resolve":{"scale":{"color":"independent"},"legend":{"color":"independent"},"axis":{"x":"independent","y":"independent"}},
"layer":[
{"data":{"name":"b"},"transform":[{"window":[{"op":"row_number","as":"r"}],"groupby":["g"],"sort":[{"field":"v","order":"ascending"}]},{"calculate":"(datum.r*7)%11-5","as":"j"}],
"mark":{"type":"circle","size":12,"color":"#9e9e9e","opacity":1},
"encoding":{"x":{"field":"g","type":"nominal","scale":{"type":"point","domain":["P1","P2","P3","D1","D2","D3"],"padding":0.655},"axis":{"title":"Replicates","titleY":81,"labelExpr":"replace(replace(datum.label,'P','Prox. KCl R'),'D','Dist. KCl R')"}},
"xOffset":{"field":"j","type":"quantitative","scale":{"domain":[-5,5],"range":[-11,11]}},
"y":{"field":"v","type":"quantitative","scale":{"domain":[0,1],"nice":false},"axis":{"title":"Confinement Ratio","values":[0,0.05,0.1,0.15,0.2,0.25,0.3,0.35,0.4,0.45,0.5,0.55,0.6,0.65,0.7,0.75,0.8,0.85,0.9,0.95,1],"labelExpr":"(datum.value==0||datum.value==0.5||datum.value==1) ? format(datum.value,'.1f') : ''","tickSize":{"condition":{"test":"datum.value==0||datum.value==0.5||datum.value==1","value":6},"value":3},"titleX":-37}}}},
{"data":{"name":"bm"},"mark":{"type":"tick","thickness":3,"size":22,"opacity":1},
"encoding":{"x":{"field":"g","type":"nominal","axis":null},"y":{"field":"m","type":"quantitative","axis":null},
"color":{"field":"g","type":"nominal","scale":{"domain":["P1","P2","P3","D1","D2","D3"],"range":["#c5c7d8","#c5c7d8","#c5c7d8","#1b47c2","#1b47c2","#1b47c2"]},
"legend":{"orient":"none","legendX":203,"legendY":12,"labelExpr":"replace(replace(datum.label,'P','Prox. KCl R'),'D','Dist. KCl R')"}}}},
{"data":{"name":"bm"},"mark":{"type":"tick","thickness":3,"size":22,"opacity":1},
"encoding":{"x":{"field":"g","type":"nominal","axis":null},"y":{"field":"m","type":"quantitative","axis":null},
"color":{"field":"g","type":"nominal","scale":{"domain":["P1","P2","P3","D1","D2","D3"],"range":["#b0b0e8","#b0b0e8","#b0b0e8","#5c5ce0","#5c5ce0","#5c5ce0"]},"legend":null}}},
{"data":{"name":"bb"},"layer":[
{"mark":{"type":"rule","color":"#333","strokeWidth":1.2},"encoding":{"x":{"field":"s","type":"nominal","axis":null},"x2":{"field":"e"},"y":{"field":"y","type":"quantitative","axis":null}}},
{"mark":{"type":"rule","color":"#333","strokeWidth":1.2},"encoding":{"x":{"field":"s","type":"nominal","axis":null},"y":{"field":"y","type":"quantitative","axis":null},"y2":{"field":"d"}}},
{"mark":{"type":"rule","color":"#333","strokeWidth":1.2},"encoding":{"x":{"field":"e","type":"nominal","axis":null},"y":{"field":"y","type":"quantitative","axis":null},"y2":{"field":"d"}}},
{"mark":{"type":"text","dx":14.5,"dy":0,"baseline":"alphabetic","fontSize":16,"fontWeight":"bold","color":"#222","font":"Liberation Serif"},"encoding":{"x":{"field":"m","type":"nominal","axis":null},"y":{"field":"y","type":"quantitative","axis":null},"text":{"field":"t"}}}
]}
]},
{"width":183,"height":185,
"title":{"text":"c","dx":-7,"dy":1},
"resolve":{"axis":{"x":"independent","y":"independent"}},
"layer":[
{"data":{"name":"c"},"transform":[{"window":[{"op":"row_number","as":"r"}],"groupby":["g"],"sort":[{"field":"v","order":"ascending"}]},{"calculate":"(datum.r*7)%11-5","as":"j"}],
"mark":{"type":"circle","size":40,"color":"#a0a0a0","opacity":1},
"encoding":{"x":{"field":"g","type":"nominal","scale":{"type":"point","domain":["S1","S2","S3","F1","F2","F3"],"padding":0.655},"axis":{"title":"Replicates","titleY":69,"labelExpr":"replace(replace(datum.label,'S','Sessile R'),'F','Free R')"}},
"xOffset":{"field":"j","type":"quantitative","scale":{"domain":[-5,5],"range":[-8,8]}},
"y":{"field":"v","type":"quantitative","scale":{"domain":[0,1000],"nice":false},"axis":{"title":"Mean speed (μm/s)","values":[0,200,400,600,800,1000],"format":"d","titleX":-47}}}},
{"data":{"name":"cm"},"mark":{"type":"tick","thickness":3,"size":19,"opacity":1},
"encoding":{"x":{"field":"g","type":"nominal","axis":null},"y":{"field":"m","type":"quantitative","axis":{"orient":"left","title":"V. microstoma","titleFontStyle":"italic","titleFontSize":17,"titleX":-69,"titleY":89,"domain":false,"ticks":false,"labels":false}},
"color":{"field":"g","type":"nominal","scale":{"domain":["S1","S2","S3","F1","F2","F3"],"range":["#45c945","#45c945","#45c945","#2a9c7e","#2a9c7e","#2a9c7e"]},"legend":null}}}
]},
{"width":183,"height":185,
"title":{"text":"d","dx":-65,"dy":-1},
"resolve":{"scale":{"color":"independent"},"legend":{"color":"independent"},"axis":{"x":"independent","y":"independent"}},
"layer":[
{"data":{"name":"d"},"transform":[{"window":[{"op":"row_number","as":"r"}],"groupby":["g"],"sort":[{"field":"v","order":"ascending"}]},{"calculate":"(datum.r*7)%11-5","as":"j"}],
"mark":{"type":"circle","size":40,"color":"#a0a0a0","opacity":1},
"encoding":{"x":{"field":"g","type":"nominal","scale":{"type":"point","domain":["S1","S2","S3","F1","F2","F3"],"padding":0.655},"axis":{"title":"Replicates","titleY":68,"labelExpr":"replace(replace(datum.label,'S','Sessile R'),'F','Free R')"}},
"xOffset":{"field":"j","type":"quantitative","scale":{"domain":[-5,5],"range":[-8,8]}},
"y":{"field":"v","type":"quantitative","scale":{"domain":[0,1],"nice":false},"axis":{"title":"Confinement Ratio","values":[0,0.05,0.1,0.15,0.2,0.25,0.3,0.35,0.4,0.45,0.5,0.55,0.6,0.65,0.7,0.75,0.8,0.85,0.9,0.95,1],"labelExpr":"(datum.value==0||datum.value==0.5||datum.value==1) ? format(datum.value,'.1f') : ''","tickSize":{"condition":{"test":"datum.value==0||datum.value==0.5||datum.value==1","value":6},"value":3},"titleX":-37}}}},
{"data":{"name":"dm"},"mark":{"type":"tick","thickness":3,"size":21,"opacity":1},
"encoding":{"x":{"field":"g","type":"nominal","axis":null},"y":{"field":"m","type":"quantitative","axis":null},
"color":{"field":"g","type":"nominal","scale":{"domain":["S1","S2","S3","F1","F2","F3"],"range":["#4cc24c","#4cc24c","#4cc24c","#1d6b1d","#1d6b1d","#1d6b1d"]},
"legend":{"orient":"none","legendX":204,"legendY":15,"labelExpr":"replace(replace(datum.label,'S','Sessile R'),'F','Free R')"}}}},
{"data":{"name":"dm"},"mark":{"type":"tick","thickness":3,"size":21,"opacity":1},
"encoding":{"x":{"field":"g","type":"nominal","axis":null},"y":{"field":"m","type":"quantitative","axis":null},
"color":{"field":"g","type":"nominal","scale":{"domain":["S1","S2","S3","F1","F2","F3"],"range":["#45c945","#45c945","#45c945","#2a9c7e","#2a9c7e","#2a9c7e"]},"legend":null}}}
]},
{"width":183,"height":244,
"title":{"text":"e","dx":-31,"dy":34},
"resolve":{"axis":{"x":"independent","y":"independent"}},
"layer":[
{"data":{"name":"e"},"transform":[{"window":[{"op":"row_number","as":"r"}],"groupby":["g"],"sort":[{"field":"v","order":"ascending"}]},{"calculate":"(datum.r*7)%11-5","as":"j"}],
"mark":{"type":"circle","size":12,"color":"#9e9e9e","opacity":1},
"encoding":{"x":{"field":"g","type":"nominal","scale":{"type":"point","domain":["P1","P2","P3","D1","D2","D3"],"padding":0.655},"axis":{"title":"Replicates","titleY":72,"labelExpr":"replace(replace(datum.label,'P','Prox. V. R'),'D','Dist.V. R')"}},
"xOffset":{"field":"j","type":"quantitative","scale":{"domain":[-5,5],"range":[-11,11]}},
"y":{"field":"v","type":"quantitative","scale":{"domain":[0,30],"nice":false,"range":[244,59]},"axis":{"title":"Mean speed (μm/s)","values":[0,10,20,30],"titleX":-40,"titleY":151}}}},
{"data":{"name":"em"},"mark":{"type":"tick","thickness":3.5,"size":22,"opacity":1},
"encoding":{"x":{"field":"g","type":"nominal","axis":null},"y":{"field":"m","type":"quantitative","axis":{"orient":"left","title":"E. aerogenes","titleFontStyle":"italic","titleFontSize":17,"titleX":-69,"titleY":116,"domain":false,"ticks":false,"labels":false}},
"color":{"field":"g","type":"nominal","scale":{"domain":["P1","P2","P3","D1","D2","D3"],"range":["#cf45c2","#cf45c2","#cf45c2","#a3124f","#a3124f","#a3124f"]},"legend":null}}},
{"data":{"name":"eb"},"layer":[
{"mark":{"type":"rule","color":"#333","strokeWidth":1.2},"encoding":{"x":{"field":"s","type":"nominal","axis":null},"x2":{"field":"e"},"y":{"field":"y","type":"quantitative","axis":null}}},
{"mark":{"type":"rule","color":"#333","strokeWidth":1.2},"encoding":{"x":{"field":"s","type":"nominal","axis":null},"y":{"field":"y","type":"quantitative","axis":null},"y2":{"field":"d"}}},
{"mark":{"type":"rule","color":"#333","strokeWidth":1.2},"encoding":{"x":{"field":"e","type":"nominal","axis":null},"y":{"field":"y","type":"quantitative","axis":null},"y2":{"field":"d"}}},
{"mark":{"type":"text","dx":14.5,"dy":0,"baseline":"alphabetic","fontSize":16,"fontWeight":"bold","color":"#222","font":"Liberation Serif"},"encoding":{"x":{"field":"m","type":"nominal","axis":null},"y":{"field":"y","type":"quantitative","axis":null},"text":{"field":"t"}}}
]}
]},
{"width":183,"height":244,
"title":{"text":"f","dx":-53,"dy":40},
"resolve":{"scale":{"color":"independent"},"legend":{"color":"independent"},"axis":{"x":"independent","y":"independent"}},
"layer":[
{"data":{"name":"f"},"transform":[{"window":[{"op":"row_number","as":"r"}],"groupby":["g"],"sort":[{"field":"v","order":"ascending"}]},{"calculate":"(datum.r*7)%11-5","as":"j"}],
"mark":{"type":"circle","size":12,"color":"#9e9e9e","opacity":1},
"encoding":{"x":{"field":"g","type":"nominal","scale":{"type":"point","domain":["P1","P2","P3","D1","D2","D3"],"padding":0.655},"axis":{"title":"Replicates","titleY":73,"labelExpr":"replace(replace(datum.label,'P','Prox. V. R'),'D','Dist.V. R')"}},
"xOffset":{"field":"j","type":"quantitative","scale":{"domain":[-5,5],"range":[-11,11]}},
"y":{"field":"v","type":"quantitative","scale":{"domain":[0,1],"nice":false,"range":[244,59]},"axis":{"title":"Confinement Ratio","values":[0,0.05,0.1,0.15,0.2,0.25,0.3,0.35,0.4,0.45,0.5,0.55,0.6,0.65,0.7,0.75,0.8,0.85,0.9,0.95,1],"labelExpr":"(datum.value==0||datum.value==0.5||datum.value==1) ? format(datum.value,'.1f') : ''","tickSize":{"condition":{"test":"datum.value==0||datum.value==0.5||datum.value==1","value":6},"value":3},"titleX":-37,"titleY":151}}}},
{"data":{"name":"fm"},"mark":{"type":"tick","thickness":3.5,"size":22,"opacity":1},
"encoding":{"x":{"field":"g","type":"nominal","axis":null},"y":{"field":"m","type":"quantitative","axis":null},
"color":{"field":"g","type":"nominal","scale":{"domain":["P1","P2","P3","D1","D2","D3"],"range":["#b21ca9","#b21ca9","#b21ca9","#a81648","#a81648","#a81648"]},
"legend":{"orient":"none","legendX":203,"legendY":58,"labelExpr":"replace(replace(datum.label,'P','Prox. V. R'),'D','Dist. V. R')"}}}},
{"data":{"name":"fm"},"mark":{"type":"tick","thickness":3.5,"size":22,"opacity":1},
"encoding":{"x":{"field":"g","type":"nominal","axis":null},"y":{"field":"m","type":"quantitative","axis":null},
"color":{"field":"g","type":"nominal","scale":{"domain":["P1","P2","P3","D1","D2","D3"],"range":["#cf45c2","#cf45c2","#cf45c2","#a3124f","#a3124f","#a3124f"]},"legend":null}}},
{"data":{"name":"fb"},"layer":[
{"mark":{"type":"rule","color":"#333","strokeWidth":1.2},"encoding":{"x":{"field":"s","type":"nominal","axis":null},"x2":{"field":"e"},"y":{"field":"y","type":"quantitative","axis":null}}},
{"mark":{"type":"rule","color":"#333","strokeWidth":1.2},"encoding":{"x":{"field":"s","type":"nominal","axis":null},"y":{"field":"y","type":"quantitative","axis":null},"y2":{"field":"d"}}},
{"mark":{"type":"rule","color":"#333","strokeWidth":1.2},"encoding":{"x":{"field":"e","type":"nominal","axis":null},"y":{"field":"y","type":"quantitative","axis":null},"y2":{"field":"d"}}},
{"mark":{"type":"text","dx":14.5,"dy":0,"baseline":"alphabetic","fontSize":16,"fontWeight":"bold","color":"#222","font":"Liberation Serif"},"encoding":{"x":{"field":"m","type":"nominal","axis":null},"y":{"field":"y","type":"quantitative","axis":null},"text":{"field":"t"}}}
]}
]}
]
}
